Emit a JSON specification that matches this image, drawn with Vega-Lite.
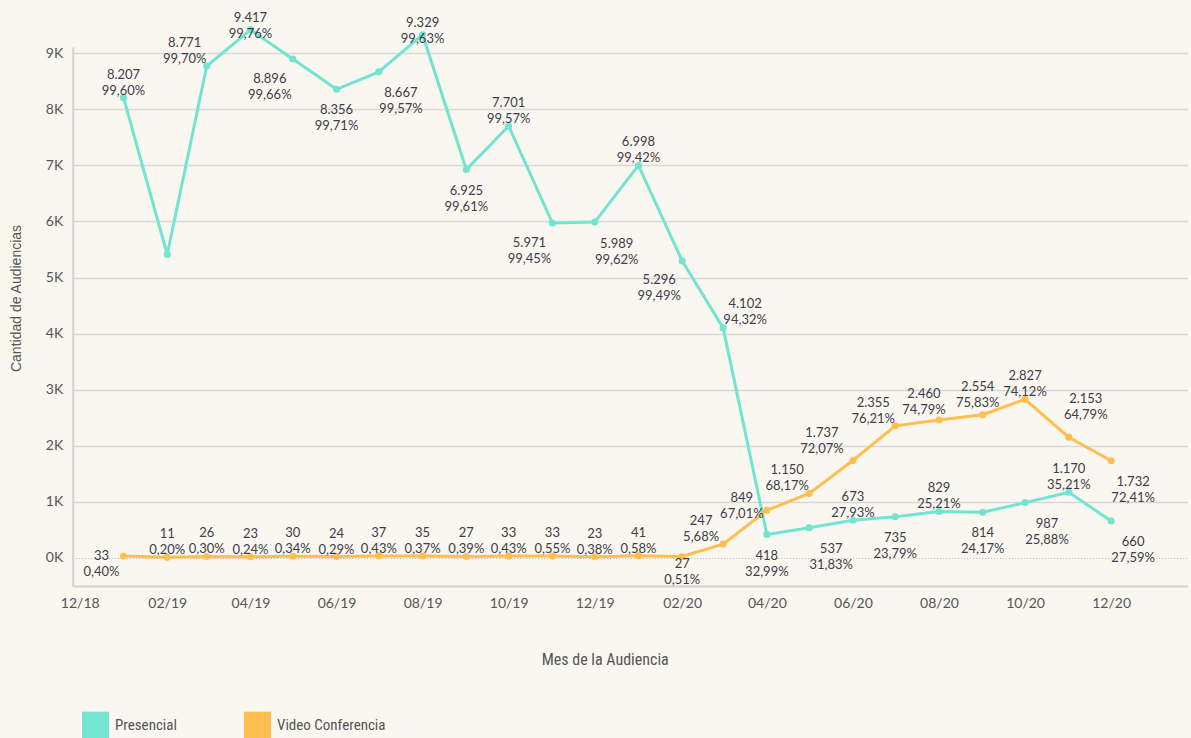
{
  "$schema": "https://vega.github.io/schema/vega-lite/v6.json",
  "width": 1114.6,
  "height": 539,
  "autosize": {"type": "none"},
  "padding": {"left": 72.7, "top": 47, "right": 3.7, "bottom": 152},
  "background": "#f9f7f0",
  "config": {"view": {"stroke": null}, "font": "Lato"},
  "data": {
    "format": {"parse": {"mes": "date"}},
    "values": [
      {"mes": "2019-01-01", "serie": "Presencial", "valor": 8207, "pct": 99.60},
      {"mes": "2019-02-01", "serie": "Presencial", "valor": 5410, "pct": 99.80},
      {"mes": "2019-03-01", "serie": "Presencial", "valor": 8771, "pct": 99.70},
      {"mes": "2019-04-01", "serie": "Presencial", "valor": 9417, "pct": 99.76},
      {"mes": "2019-05-01", "serie": "Presencial", "valor": 8896, "pct": 99.66},
      {"mes": "2019-06-01", "serie": "Presencial", "valor": 8356, "pct": 99.71},
      {"mes": "2019-07-01", "serie": "Presencial", "valor": 8667, "pct": 99.57},
      {"mes": "2019-08-01", "serie": "Presencial", "valor": 9329, "pct": 99.63},
      {"mes": "2019-09-01", "serie": "Presencial", "valor": 6925, "pct": 99.61},
      {"mes": "2019-10-01", "serie": "Presencial", "valor": 7701, "pct": 99.57},
      {"mes": "2019-11-01", "serie": "Presencial", "valor": 5971, "pct": 99.45},
      {"mes": "2019-12-01", "serie": "Presencial", "valor": 5989, "pct": 99.62},
      {"mes": "2020-01-01", "serie": "Presencial", "valor": 6998, "pct": 99.42},
      {"mes": "2020-02-01", "serie": "Presencial", "valor": 5296, "pct": 99.49},
      {"mes": "2020-03-01", "serie": "Presencial", "valor": 4102, "pct": 94.32},
      {"mes": "2020-04-01", "serie": "Presencial", "valor": 418, "pct": 32.99},
      {"mes": "2020-05-01", "serie": "Presencial", "valor": 537, "pct": 31.83},
      {"mes": "2020-06-01", "serie": "Presencial", "valor": 673, "pct": 27.93},
      {"mes": "2020-07-01", "serie": "Presencial", "valor": 735, "pct": 23.79},
      {"mes": "2020-08-01", "serie": "Presencial", "valor": 829, "pct": 25.21},
      {"mes": "2020-09-01", "serie": "Presencial", "valor": 814, "pct": 24.17},
      {"mes": "2020-10-01", "serie": "Presencial", "valor": 987, "pct": 25.88},
      {"mes": "2020-11-01", "serie": "Presencial", "valor": 1170, "pct": 35.21},
      {"mes": "2020-12-01", "serie": "Presencial", "valor": 660, "pct": 27.59},
      {"mes": "2019-01-01", "serie": "Video Conferencia", "valor": 33, "pct": 0.40},
      {"mes": "2019-02-01", "serie": "Video Conferencia", "valor": 11, "pct": 0.20},
      {"mes": "2019-03-01", "serie": "Video Conferencia", "valor": 26, "pct": 0.30},
      {"mes": "2019-04-01", "serie": "Video Conferencia", "valor": 23, "pct": 0.24},
      {"mes": "2019-05-01", "serie": "Video Conferencia", "valor": 30, "pct": 0.34},
      {"mes": "2019-06-01", "serie": "Video Conferencia", "valor": 24, "pct": 0.29},
      {"mes": "2019-07-01", "serie": "Video Conferencia", "valor": 37, "pct": 0.43},
      {"mes": "2019-08-01", "serie": "Video Conferencia", "valor": 35, "pct": 0.37},
      {"mes": "2019-09-01", "serie": "Video Conferencia", "valor": 27, "pct": 0.39},
      {"mes": "2019-10-01", "serie": "Video Conferencia", "valor": 33, "pct": 0.43},
      {"mes": "2019-11-01", "serie": "Video Conferencia", "valor": 33, "pct": 0.55},
      {"mes": "2019-12-01", "serie": "Video Conferencia", "valor": 23, "pct": 0.38},
      {"mes": "2020-01-01", "serie": "Video Conferencia", "valor": 41, "pct": 0.58},
      {"mes": "2020-02-01", "serie": "Video Conferencia", "valor": 27, "pct": 0.51},
      {"mes": "2020-03-01", "serie": "Video Conferencia", "valor": 247, "pct": 5.68},
      {"mes": "2020-04-01", "serie": "Video Conferencia", "valor": 849, "pct": 67.01},
      {"mes": "2020-05-01", "serie": "Video Conferencia", "valor": 1150, "pct": 68.17},
      {"mes": "2020-06-01", "serie": "Video Conferencia", "valor": 1737, "pct": 72.07},
      {"mes": "2020-07-01", "serie": "Video Conferencia", "valor": 2355, "pct": 76.21},
      {"mes": "2020-08-01", "serie": "Video Conferencia", "valor": 2460, "pct": 74.79},
      {"mes": "2020-09-01", "serie": "Video Conferencia", "valor": 2554, "pct": 75.83},
      {"mes": "2020-10-01", "serie": "Video Conferencia", "valor": 2827, "pct": 74.12},
      {"mes": "2020-11-01", "serie": "Video Conferencia", "valor": 2153, "pct": 64.79},
      {"mes": "2020-12-01", "serie": "Video Conferencia", "valor": 1732, "pct": 72.41}
    ]
  },
  "transform": [
    {"calculate": "(datum.serie === 'Presencial' ? 'P' : 'V') + utcFormat(datum.mes, '%m/%y')", "as": "clave"},
    {"calculate": "[replace(format(datum.valor, ','), ',', '.'), replace(format(datum.pct, '.2f'), '.', ',') + '%']", "as": "etiqueta"}
  ],
  "encoding": {
    "x": {
      "field": "mes",
      "type": "temporal",
      "scale": {
        "type": "utc",
        "nice": false,
        "domain": [
          {"year": 2018, "month": 11, "date": 26, "utc": true},
          {"year": 2021, "month": 1, "date": 24, "utc": true}
        ]
      },
      "axis": {
        "values": [
          {"year": 2018, "month": 12, "date": 1, "utc": true},
          {"year": 2019, "month": 2, "date": 1, "utc": true},
          {"year": 2019, "month": 4, "date": 1, "utc": true},
          {"year": 2019, "month": 6, "date": 1, "utc": true},
          {"year": 2019, "month": 8, "date": 1, "utc": true},
          {"year": 2019, "month": 10, "date": 1, "utc": true},
          {"year": 2019, "month": 12, "date": 1, "utc": true},
          {"year": 2020, "month": 2, "date": 1, "utc": true},
          {"year": 2020, "month": 4, "date": 1, "utc": true},
          {"year": 2020, "month": 6, "date": 1, "utc": true},
          {"year": 2020, "month": 8, "date": 1, "utc": true},
          {"year": 2020, "month": 10, "date": 1, "utc": true},
          {"year": 2020, "month": 12, "date": 1, "utc": true}
        ],
        "format": "%m/%y",
        "title": "Mes de la Audiencia",
        "ticks": false,
        "grid": false,
        "domainColor": "#d2d2d2",
        "domainWidth": 2,
        "labelFont": "Lato",
        "labelFontSize": 14,
        "labelColor": "#555555",
        "labelPadding": 10,
        "labelDx": 3,
        "labelFlush": false,
        "labelOverlap": false,
        "titleFont": "Liberation Sans Narrow, Roboto Condensed, Roboto",
        "titleFontSize": 16,
        "titleFontWeight": "normal",
        "titleColor": "#555555",
        "titleX": 532,
        "titleY": 73,
        "titleBaseline": "middle",
        "titleAlign": "center"
      }
    },
    "y": {
      "field": "valor",
      "type": "quantitative",
      "scale": {"domain": [-500, 9110], "nice": false, "zero": false},
      "axis": {
        "values": [0, 1000, 2000, 3000, 4000, 5000, 6000, 7000, 8000, 9000],
        "labelExpr": "(datum.value / 1000) + 'K'",
        "title": "Cantidad de Audiencias",
        "ticks": false,
        "domainColor": "#d2d2d2",
        "domainWidth": 2,
        "grid": true,
        "gridColor": {"condition": {"test": "datum.value === 0", "value": "#b5b5b5"}, "value": "#d8d8d8"},
        "gridWidth": {"condition": {"test": "datum.value === 0", "value": 1}, "value": 1.5},
        "gridDash": {"condition": {"test": "datum.value === 0", "value": [1, 2]}, "value": []},
        "labelFont": "Lato",
        "labelFontSize": 14,
        "labelColor": "#555555",
        "labelPadding": 10,
        "titleFont": "Liberation Sans",
        "titleFontSize": 14,
        "titleFontWeight": "normal",
        "titleColor": "#555555",
        "titleX": -55.7,
        "titleY": 251,
        "titleBaseline": "middle",
        "titleAlign": "center"
      }
    }
  },
  "layer": [
    {
      "mark": {"type": "line", "strokeWidth": 3},
      "encoding": {
        "color": {
          "field": "serie",
          "type": "nominal",
          "scale": {"domain": ["Presencial", "Video Conferencia"], "range": ["#72e4d1", "#ffbf50"]},
          "legend": {
            "orient": "none",
            "legendX": 9.3,
            "legendY": 664.7,
            "direction": "horizontal",
            "title": null,
            "padding": 0,
            "symbolType": "square",
            "symbolSize": 729,
            "symbolStrokeWidth": 0,
            "labelFont": "Liberation Sans Narrow, Roboto Condensed, Roboto",
            "labelFontSize": 15,
            "labelColor": "#555555",
            "labelOffset": 6,
            "columnPadding": 67
          }
        }
      }
    },
    {
      "mark": {"type": "point", "filled": true, "size": 50, "opacity": 1},
      "encoding": {"color": {"field": "serie", "type": "nominal", "legend": null}}
    },
    {
      "transform": [{"filter": "indexof(['P01/19','P10/19','P01/20','P06/20','P08/20','P11/20','V02/19','V03/19','V04/19','V05/19','V06/19','V07/19','V08/19','V09/19','V10/19','V11/19','V12/19','V01/20','V10/20'], datum.clave) >= 0"}],
      "mark": {"type": "text", "dx": 0, "dy": -23, "font": "Lato", "fontSize": 13, "color": "#3d3d48", "lineHeight": 16, "baseline": "middle", "align": "center"},
      "encoding": {"text": {"field": "etiqueta"}}
    },
    {
      "transform": [{"filter": "indexof(['P06/19','P09/19','P04/20','P07/20','P09/20'], datum.clave) >= 0"}],
      "mark": {"type": "text", "dx": 0, "dy": 21, "font": "Lato", "fontSize": 13, "color": "#3d3d48", "lineHeight": 16, "baseline": "middle", "align": "center"},
      "encoding": {"text": {"field": "etiqueta"}}
    },
    {
      "transform": [{"filter": "indexof(['P07/19','P12/19','P05/20','P10/20','P12/20','V12/20'], datum.clave) >= 0"}],
      "mark": {"type": "text", "dx": 22, "dy": 21.5, "font": "Lato", "fontSize": 13, "color": "#3d3d48", "lineHeight": 16, "baseline": "middle", "align": "center"},
      "encoding": {"text": {"field": "etiqueta"}}
    },
    {
      "transform": [{"filter": "indexof(['P05/19','P11/19','P02/20'], datum.clave) >= 0"}],
      "mark": {"type": "text", "dx": -23, "dy": 19.5, "font": "Lato", "fontSize": 13, "color": "#3d3d48", "lineHeight": 16, "baseline": "middle", "align": "center"},
      "encoding": {"text": {"field": "etiqueta"}}
    },
    {
      "transform": [{"filter": "indexof(['P03/19','V03/20','V05/20','V07/20'], datum.clave) >= 0"}],
      "mark": {"type": "text", "dx": -22, "dy": -23, "font": "Lato", "fontSize": 13, "color": "#3d3d48", "lineHeight": 16, "baseline": "middle", "align": "center"},
      "encoding": {"text": {"field": "etiqueta"}}
    },
    {
      "transform": [{"filter": "datum.clave === 'P03/20'"}],
      "mark": {"type": "text", "dx": 22, "dy": -24, "font": "Lato", "fontSize": 13, "color": "#3d3d48", "lineHeight": 16, "baseline": "middle", "align": "center"},
      "encoding": {"text": {"field": "etiqueta"}}
    },
    {
      "transform": [{"filter": "indexof(['P04/19','P08/19'], datum.clave) >= 0"}],
      "mark": {"type": "text", "dx": 0, "dy": -12, "font": "Lato", "fontSize": 13, "color": "#3d3d48", "lineHeight": 16, "baseline": "middle", "align": "center"},
      "encoding": {"text": {"field": "etiqueta"}}
    },
    {
      "transform": [{"filter": "datum.clave === 'V01/19'"}],
      "mark": {"type": "text", "dx": -22, "dy": 0, "font": "Lato", "fontSize": 13, "color": "#3d3d48", "lineHeight": 16, "baseline": "middle", "align": "center"},
      "encoding": {"text": {"field": "etiqueta"}}
    },
    {
      "transform": [{"filter": "datum.clave === 'V02/20'"}],
      "mark": {"type": "text", "dx": 0, "dy": 8, "font": "Lato", "fontSize": 13, "color": "#3d3d48", "lineHeight": 16, "baseline": "middle", "align": "center"},
      "encoding": {"text": {"field": "etiqueta"}}
    },
    {
      "transform": [{"filter": "datum.clave === 'V04/20'"}],
      "mark": {"type": "text", "dx": -25, "dy": -12, "font": "Lato", "fontSize": 13, "color": "#3d3d48", "lineHeight": 16, "baseline": "middle", "align": "center"},
      "encoding": {"text": {"field": "etiqueta"}}
    },
    {
      "transform": [{"filter": "datum.clave === 'V06/20'"}],
      "mark": {"type": "text", "dx": -31, "dy": -28, "font": "Lato", "fontSize": 13, "color": "#3d3d48", "lineHeight": 16, "baseline": "middle", "align": "center"},
      "encoding": {"text": {"field": "etiqueta"}}
    },
    {
      "transform": [{"filter": "datum.clave === 'V08/20'"}],
      "mark": {"type": "text", "dx": -15, "dy": -26, "font": "Lato", "fontSize": 13, "color": "#3d3d48", "lineHeight": 16, "baseline": "middle", "align": "center"},
      "encoding": {"text": {"field": "etiqueta"}}
    },
    {
      "transform": [{"filter": "datum.clave === 'V09/20'"}],
      "mark": {"type": "text", "dx": -5, "dy": -28, "font": "Lato", "fontSize": 13, "color": "#3d3d48", "lineHeight": 16, "baseline": "middle", "align": "center"},
      "encoding": {"text": {"field": "etiqueta"}}
    },
    {
      "transform": [{"filter": "datum.clave === 'V11/20'"}],
      "mark": {"type": "text", "dx": 17, "dy": -38, "font": "Lato", "fontSize": 13, "color": "#3d3d48", "lineHeight": 16, "baseline": "middle", "align": "center"},
      "encoding": {"text": {"field": "etiqueta"}}
    }
  ]
}
